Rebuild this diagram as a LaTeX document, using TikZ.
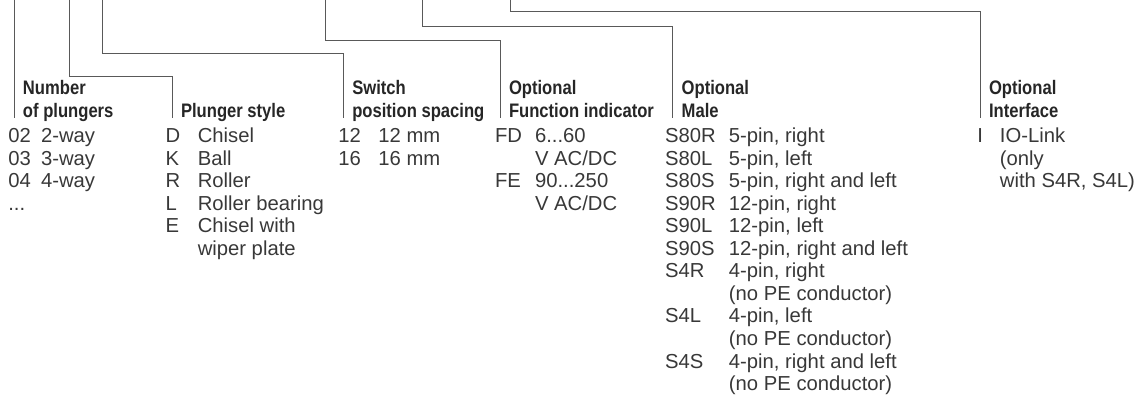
\documentclass[tikz,border=0pt]{standalone}
\usepackage{fontspec}
\setmainfont{Liberation Sans}
\newfontfamily\headfont[FakeStretch=0.85]{Liberation Sans}
\usepackage{array}
\usetikzlibrary{positioning}

\newcommand{\codelist}[2]{\begin{tabular}[t]{@{}p{#1}@{}l@{}}#2\end{tabular}}
\newcommand{\headlines}[1]{\begin{tabular}[b]{@{}l@{}}#1\end{tabular}}

\begin{document}
\begin{tikzpicture}[
    x=0.025cm, y=-0.025cm,
    lead/.style={draw=black!65, line width=0.7pt},
    heading/.style={
      anchor=base west,
      inner xsep=6.4pt, inner ysep=0pt, outer sep=0pt,
      text=black!85,
      font=\headfont\bfseries\fontsize{13.9}{16.6}\selectfont
    },
    entries/.style={
      anchor=base west,
      inner sep=0pt, outer sep=0pt,
      text=black!78,
      font=\fontsize{14.4}{16.04}\selectfont
    }
  ]
    \useasboundingbox (0,0) rectangle (1144,405);

    % headings, base west sits on the foot of each lead
    \node[heading] (hNum) at (14,118) {\headlines{Number\\of plungers}};
    \node[heading] (hStyle) at (172,118) {\headlines{Plunger style}};
    \node[heading] (hSpace) at (343.3,118) {\headlines{Switch\\position spacing}};
    \node[heading] (hFunc) at (500,118) {\headlines{Optional\\Function indicator}};
    \node[heading] (hMale) at (672.7,118) {\headlines{Optional\\Male}};
    \node[heading] (hIface) at (980,118) {\headlines{Optional\\Interface}};

    % code lists
    \node[entries] (tNum) at (8.3,142.5)
      {\codelist{23.3pt}{02 & 2-way\\ 03 & 3-way\\ 04 & 4-way\\ ... & }};
    \node[entries] (tStyle) at (165.7,142.5)
      {\codelist{22.8pt}{D & Chisel\\ K & Ball\\ R & Roller\\ L & Roller bearing\\
        E & Chisel with\\ & wiper plate}};
    \node[entries] (tSpace) at (338.3,142.5)
      {\codelist{28.5pt}{12 & 12 mm\\ 16 & 16 mm}};
    \node[entries] (tFunc) at (495,142.5)
      {\codelist{28.5pt}{FD & 6...60\\ & V AC/DC\\ FE & 90...250\\ & V AC/DC}};
    \node[entries] (tMale) at (665,142.5)
      {\codelist{45.5pt}{S80R & 5-pin, right\\ S80L & 5-pin, left\\
        S80S & 5-pin, right and left\\ S90R & 12-pin, right\\
        S90L & 12-pin, left\\ S90S & 12-pin, right and left\\
        S4R & 4-pin, right\\ & (no PE conductor)\\
        S4L & 4-pin, left\\ & (no PE conductor)\\
        S4S & 4-pin, right and left\\ & (no PE conductor)}};
    \node[entries] (tIface) at (977.3,142.5)
      {\codelist{16.1pt}{I & IO-Link\\ & (only\\ & with S4R, S4L)}};

    % leads coming down from the type code
    \coordinate (t1) at (14,0);
    \coordinate (t2) at (69,0);
    \coordinate (t3) at (102.3,0);
    \coordinate (t4) at (325,0);
    \coordinate (t5) at (422.7,0);
    \coordinate (t6) at (510,0);
    \draw[lead] (t1) -- (hNum.base west);
    \draw[lead] (t2) -- ++(0,76) -| (hStyle.base west);
    \draw[lead] (t3) -- ++(0,53) -| (hSpace.base west);
    \draw[lead] (t4) -- ++(0,40.3) -| (hFunc.base west);
    \draw[lead] (t5) -- ++(0,26) -| (hMale.base west);
    \draw[lead] (t6) -- ++(0,11.7) -| (hIface.base west);
\end{tikzpicture}
\end{document}
